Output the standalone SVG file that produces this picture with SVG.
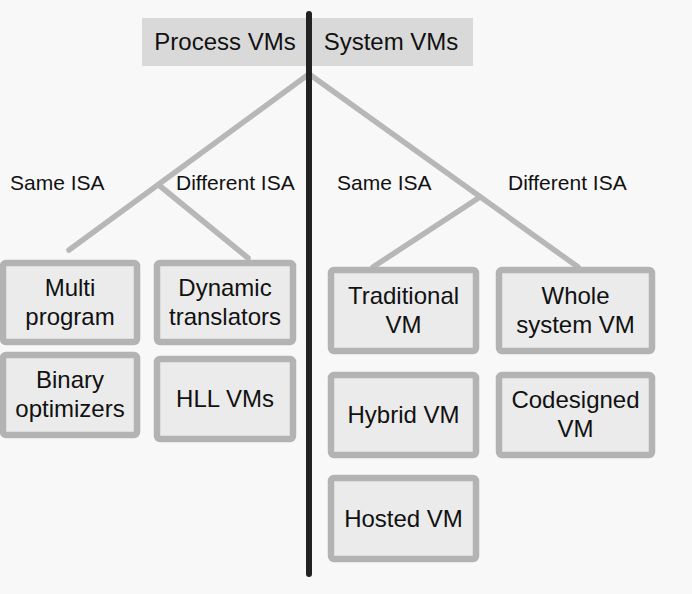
<svg xmlns="http://www.w3.org/2000/svg" width="692" height="594" viewBox="0 0 692 594">
<style>
.bg{fill:#f8f8f8}
.box{fill:#ebebeb;stroke:#b3b3b3;stroke-width:6.5}
.t{font-family:"Liberation Sans",Arial,sans-serif;font-size:24px;fill:#111;text-anchor:middle}
.lbl{font-family:"Liberation Sans",Arial,sans-serif;font-size:21px;fill:#111}
.br{stroke:#b7b7b7;stroke-width:5.5;fill:none;stroke-linecap:round}
</style>
<rect class="bg" x="0" y="0" width="692" height="594"/>
<g id="header">
<rect x="142" y="18" width="331" height="48" fill="#d9d9d9"/>
<text class="t" x="225" y="50">Process VMs</text>
<text class="t" x="391" y="50">System VMs</text>
</g>
<g id="connectors">
<line class="br" x1="309" y1="74" x2="69" y2="250"/>
<line class="br" x1="160" y1="186" x2="248" y2="258"/>
<line class="br" x1="309" y1="74" x2="578" y2="267"/>
<line class="br" x1="480" y1="197" x2="373" y2="267"/>
<line x1="309" y1="14" x2="309" y2="574" stroke="#222" stroke-width="6" stroke-linecap="round"/>
</g>
<g id="labels">
<text class="lbl" x="10" y="190">Same ISA</text>
<text class="lbl" x="176" y="190">Different ISA</text>
<text class="lbl" x="337" y="190">Same ISA</text>
<text class="lbl" x="508" y="190">Different ISA</text>
</g>
<g id="multi-program">
<rect class="box" x="3" y="263" width="134" height="79" rx="3"/>
<text class="t" x="70" y="296">Multi</text>
<text class="t" x="70" y="325">program</text>
</g>
<g id="dynamic-translators">
<rect class="box" x="157" y="263" width="136" height="79" rx="3"/>
<text class="t" x="225" y="296">Dynamic</text>
<text class="t" x="225" y="325">translators</text>
</g>
<g id="binary-optimizers">
<rect class="box" x="3" y="355" width="134" height="80" rx="3"/>
<text class="t" x="70" y="388">Binary</text>
<text class="t" x="70" y="417">optimizers</text>
</g>
<g id="hll-vms">
<rect class="box" x="157" y="359" width="136" height="80" rx="3"/>
<text class="t" x="225" y="407">HLL VMs</text>
</g>
<g id="traditional-vm">
<rect class="box" x="331" y="270" width="145" height="81" rx="3"/>
<text class="t" x="403.5" y="304">Traditional</text>
<text class="t" x="403.5" y="333">VM</text>
</g>
<g id="whole-system-vm">
<rect class="box" x="499" y="270" width="153" height="81" rx="3"/>
<text class="t" x="575.5" y="304">Whole</text>
<text class="t" x="575.5" y="333">system VM</text>
</g>
<g id="hybrid-vm">
<rect class="box" x="331" y="375" width="145" height="80" rx="3"/>
<text class="t" x="403.5" y="423">Hybrid VM</text>
</g>
<g id="codesigned-vm">
<rect class="box" x="499" y="375" width="153" height="80" rx="3"/>
<text class="t" x="575.5" y="408">Codesigned</text>
<text class="t" x="575.5" y="437">VM</text>
</g>
<g id="hosted-vm">
<rect class="box" x="331" y="478" width="145" height="81" rx="3"/>
<text class="t" x="403.5" y="527">Hosted VM</text>
</g>
</svg>
